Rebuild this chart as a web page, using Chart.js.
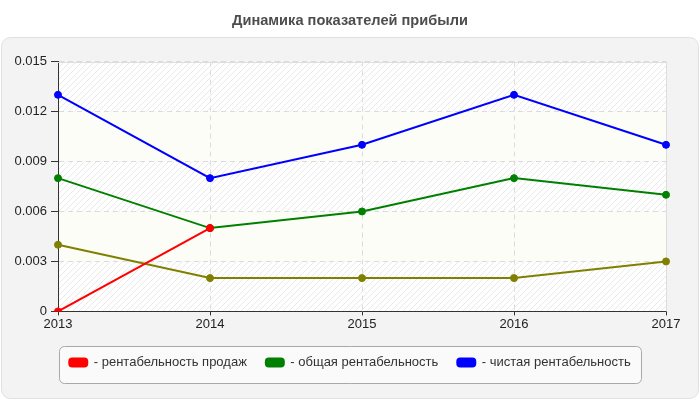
<!DOCTYPE html>
<html>
<head>
<meta charset="utf-8">
<script src="https://cdn.jsdelivr.net/npm/chart.js@4/dist/chart.umd.min.js"></script>
<style>
    html, body { margin: 0; padding: 0; background: #ffffff; }
</style>
</head>
<body>
<canvas id="lineChart" width="700" height="400"></canvas>
<script>
const years = ['2013', '2014', '2015', '2016', '2017'];
const salesProfitability = [0, 0.005, null, null, null];
const totalProfitability = [0.008, 0.005, 0.006, 0.008, 0.007];
const netProfitability = [0.013, 0.008, 0.010, 0.013, 0.010];
const otherProfitability = [0.004, 0.002, 0.002, 0.002, 0.003];
const seriesNames = ['- рентабельность продаж', '- общая рентабельность', '- чистая рентабельность', ''];
const chartTitle = 'Динамика показателей прибыли';

function makeHatch(ctx) {
    const c = document.createElement('canvas');
    c.width = 6;
    c.height = 6;
    const g = c.getContext('2d');
    g.fillStyle = '#ffffff';
    g.fillRect(0, 0, 6, 6);
    g.strokeStyle = '#e9e9e9';
    g.lineWidth = 1;
    g.beginPath();
    g.moveTo(0, 6); g.lineTo(6, 0);
    g.moveTo(-3, 3); g.lineTo(3, -3);
    g.moveTo(3, 9); g.lineTo(9, 3);
    g.stroke();
    return ctx.createPattern(c, 'repeat');
}

// panel, striped plot bands and the legend frame, drawn under everything
const backgroundPlugin = {
    id: 'background',
    beforeDraw(chart) {
        const ctx = chart.ctx;
        const area = chart.chartArea;
        ctx.save();

        ctx.beginPath();
        ctx.roundRect(1.5, 37.5, 697, 361, 9);
        ctx.fillStyle = '#f3f3f3';
        ctx.fill();
        ctx.strokeStyle = '#e0e0e0';
        ctx.lineWidth = 1;
        ctx.stroke();

        const y = chart.scales.y;
        const hatch = makeHatch(ctx);
        for (let i = 0; i < y.ticks.length - 1; i++) {
            const bottom = y.getPixelForValue(y.ticks[i].value);
            const top = y.getPixelForValue(y.ticks[i + 1].value);
            ctx.fillStyle = i % 2 === 0 ? hatch : '#fcfdf7';
            ctx.fillRect(area.left, top, area.right - area.left, bottom - top);
        }

        const boxes = chart.legend.legendHitBoxes;
        if (boxes && boxes.length) {
            const left = Math.min(...boxes.map(b => b.left)) - 10;
            const right = Math.max(...boxes.map(b => b.left + b.width)) + 11;
            const mid = boxes[0].top + boxes[0].height / 2;
            ctx.beginPath();
            ctx.roundRect(Math.round(left) + 0.5, Math.round(mid - 17) + 0.5, Math.round(right - left), 37, 5);
            ctx.fillStyle = '#fafafa';
            ctx.fill();
            ctx.strokeStyle = '#a8a8a8';
            ctx.stroke();
        }
        ctx.restore();
    },
    beforeDatasetsDraw(chart) {
        const ctx = chart.ctx;
        const area = chart.chartArea;
        ctx.save();
        ctx.strokeStyle = '#dddddd';
        ctx.lineWidth = 1;
        ctx.beginPath();
        ctx.moveTo(area.left, Math.round(area.top) + 0.5);
        ctx.lineTo(area.right, Math.round(area.top) + 0.5);
        ctx.moveTo(Math.round(area.right) + 0.5, area.top);
        ctx.lineTo(Math.round(area.right) + 0.5, area.bottom);
        ctx.stroke();
        ctx.restore();
    }
};

function lineDataset(label, values, color) {
    return {
        label: label,
        data: values,
        borderColor: color,
        backgroundColor: color,
        borderWidth: 2,
        pointRadius: 3.5,
        pointBorderWidth: 1,
        pointBackgroundColor: color,
        tension: 0,
        spanGaps: false
    };
}

function buildChart() {
    const ctx = document.getElementById('lineChart').getContext('2d');

    new Chart(ctx, {
        type: 'line',
        data: {
            labels: years,
            datasets: [
                lineDataset(seriesNames[0], salesProfitability, '#ff0000'),
                lineDataset(seriesNames[1], totalProfitability, '#008000'),
                lineDataset(seriesNames[2], netProfitability, '#0000ff'),
                lineDataset(seriesNames[3], otherProfitability, '#808000')
            ]
        },
        options: {
            responsive: false,
            animation: false,
            events: [],
            devicePixelRatio: 1,
            layout: {
                padding: { left: 15, right: 15, top: 0, bottom: 21 }
            },
            scales: {
                x: {
                    offset: false,
                    grid: {
                        color: '#dcdcdc',
                        tickColor: '#333333',
                        tickBorderDash: [],
                        tickLength: 4
                    },
                    border: { color: '#333333', width: 1, dash: [5, 4] },
                    ticks: {
                        color: '#222222',
                        padding: 1,
                        maxRotation: 0,
                        font: { family: 'Liberation Sans, Arial, sans-serif', size: 13 }
                    },
                    afterFit(scale) { scale.height += 4; }
                },
                y: {
                    min: 0,
                    max: 0.015,
                    grid: {
                        color: '#dcdcdc',
                        tickColor: '#333333',
                        tickBorderDash: [],
                        tickLength: 7
                    },
                    border: { color: '#333333', width: 1, dash: [5, 4] },
                    ticks: {
                        stepSize: 0.003,
                        color: '#222222',
                        padding: 4,
                        font: { family: 'Liberation Sans, Arial, sans-serif', size: 13 },
                        callback: v => v === 0 ? '0' : v.toFixed(3)
                    },
                    afterFit(scale) { scale.width = 43; }
                },
                // empty right-hand spacer so the plot ends where the original does
                spacer: {
                    type: 'linear',
                    position: 'right',
                    grid: { display: false },
                    border: { display: false },
                    ticks: { display: false },
                    afterFit(scale) { scale.width = 19; }
                }
            },
            plugins: {
                title: {
                    display: true,
                    text: chartTitle,
                    color: '#4d4d4d',
                    padding: { top: 12, bottom: 32 },
                    font: { family: 'Liberation Sans, Arial, sans-serif', size: 14.6, weight: 'bold' }
                },
                legend: {
                    position: 'bottom',
                    labels: {
                        color: '#333333',
                        boxWidth: 18,
                        boxHeight: 8,
                        padding: 19,
                        useBorderRadius: true,
                        borderRadius: 3,
                        font: { family: 'Liberation Sans, Arial, sans-serif', size: 13 },
                        filter: item => item.datasetIndex < 3
                    }
                },
                tooltip: { enabled: false }
            }
        },
        plugins: [backgroundPlugin]
    });
}

buildChart();
</script>
</body>
</html>
